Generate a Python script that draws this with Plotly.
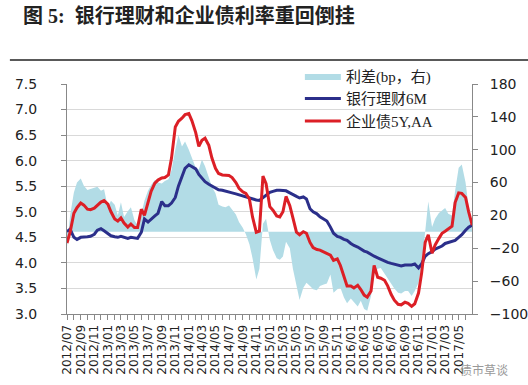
import pandas as pd
import plotly.graph_objects as go

# semi-monthly observation dates (1st and 15th of each month)
dates = pd.date_range("2012-07-01", "2017-07-01", freq="SMS")

# 银行理财6M (%)
wmp_6m = [4.61, 4.66, 4.50, 4.46, 4.50, 4.50, 4.51, 4.52, 4.56, 4.64,
          4.67, 4.63, 4.58, 4.53, 4.51, 4.50, 4.52, 4.50, 4.48, 4.50,
          4.49, 4.48, 4.60, 4.86, 4.80, 4.86, 4.92, 4.97, 5.20, 5.12,
          5.12, 5.17, 5.28, 5.50, 5.70, 5.85, 5.92, 5.89, 5.84, 5.73,
          5.66, 5.59, 5.54, 5.50, 5.46, 5.43, 5.42, 5.40, 5.39, 5.37,
          5.35, 5.33, 5.31, 5.29, 5.27, 5.25, 5.23, 5.22, 5.27, 5.32,
          5.38, 5.40, 5.42, 5.42, 5.42, 5.41, 5.37, 5.33, 5.30, 5.27,
          5.29, 5.25, 5.06, 5.00, 4.96, 4.90, 4.85, 4.82, 4.70, 4.58,
          4.52, 4.50, 4.46, 4.44, 4.38, 4.34, 4.31, 4.27, 4.23, 4.21,
          4.16, 4.13, 4.10, 4.07, 4.03, 4.01, 3.99, 3.97, 3.95, 3.94,
          3.96, 3.96, 3.96, 3.98, 3.90, 3.98, 4.13, 4.18, 4.22, 4.27,
          4.30, 4.33, 4.38, 4.40, 4.41, 4.44, 4.50, 4.55, 4.64, 4.70,
          4.74]

# 企业债5Y,AA (%)
corp_5y_aa = [4.39, 4.60, 4.97, 5.08, 5.17, 5.13, 5.05, 5.04, 5.07, 5.12,
              5.19, 5.22, 5.15, 5.00, 4.86, 4.82, 4.88, 4.78, 4.70, 4.76,
              4.69, 4.69, 5.05, 4.93, 5.20, 5.40, 5.56, 5.62, 5.66, 5.67,
              5.72, 6.05, 6.66, 6.77, 6.83, 6.90, 6.92, 6.78, 6.55, 6.28,
              6.40, 6.44, 6.30, 6.05, 5.85, 5.75, 5.72, 5.72, 5.71, 5.67,
              5.57, 5.46, 5.39, 5.36, 5.25, 4.90, 4.60, 4.62, 5.70, 5.55,
              5.10, 5.03, 4.92, 4.90, 5.00, 5.30, 5.12, 4.88, 4.60, 4.55,
              4.61, 4.58, 4.40, 4.30, 4.26, 4.25, 4.21, 4.19, 4.15, 4.05,
              4.08, 3.95, 3.75, 3.55, 3.55, 3.51, 3.56, 3.48, 3.37, 3.33,
              3.45, 3.95, 3.72, 3.70, 3.66, 3.55, 3.38, 3.27, 3.19, 3.18,
              3.23, 3.21, 3.15, 3.20, 3.41, 3.80, 4.40, 4.55, 4.19, 4.35,
              4.48, 4.58, 4.62, 4.66, 4.72, 5.18, 5.37, 5.36, 5.28, 5.00,
              4.74]

# 利差 (bp, 右轴)
spread_bp = [-18, 20, 48, 60, 65, 56, 51, 52, 54, 55,
             50, 52, 30, 38, 33, 20, 36, 18, 25, 30,
             14, 8, 22, 38, 50, 57, 63, 60, 59, 62,
             64, 75, 100, 118, 104, 110, 100, 91, 78, 76,
             88, 80, 65, 55, 47, 33, 31, 30, 32, 27,
             21, 12, 5, -3, -15, -32, -58, -45, 10, 16,
             -10, -22, -32, -34, -30, -12, -20, -45, -67, -83,
             -68, -62, -66, -70, -71, -66, -64, -63, -52, -74,
             -70, -68, -80, -87, -81, -86, -91, -84, -94, -96,
             -78, -52, -45, -44, -51, -57, -63, -69, -74, -75,
             -72, -72, -78, -72, -62, -40, 0, 37, 6, 16,
             23, 26, 29, 22, 20, 50, 78, 82, 60, 30,
             2]

names = ["利差(bp，右)", "银行理财6M", "企业债5Y,AA"]
left_ticks = [3.0, 3.5, 4.0, 4.5, 5.0, 5.5, 6.0, 6.5, 7.0, 7.5]
right_ticks = [-100, -60, -20, 20, 60, 100, 140, 180]

fig = go.Figure()
fig.add_trace(go.Scatter(
    x=dates, y=spread_bp, name=names[0], yaxis="y",
    mode="lines", line=dict(width=0, color="#b2dce6"),
    fill="tozeroy", fillcolor="#b2dce6"))
fig.add_trace(go.Scatter(
    x=dates, y=wmp_6m, name=names[1], yaxis="y2",
    mode="lines", line=dict(width=3, color="#2b2f8a")))
fig.add_trace(go.Scatter(
    x=dates, y=corp_5y_aa, name=names[2], yaxis="y2",
    mode="lines", line=dict(width=3, color="#dc1f26")))

axis_font = dict(family="DejaVu Sans", size=14, color="#222")
fig.update_layout(
    width=528, height=385,
    margin=dict(l=67, r=56, t=84, b=71, autoexpand=False),
    paper_bgcolor="white", plot_bgcolor="white",
    showlegend=True,
    legend=dict(x=0.575, y=1.105, xanchor="left", yanchor="top",
                bgcolor="rgba(0,0,0,0)",
                font=dict(family="Liberation Serif, Noto Sans CJK SC", size=15, color="#222"),
                itemwidth=36, tracegroupgap=0),
    xaxis=dict(type="date", range=["2012-07-01", "2017-06-30"],
               dtick="M2", tick0="2012-07-01", tickformat="%Y/%m",
               tickangle=-90, tickfont=dict(family="DejaVu Sans", size=12, color="#222"),
               ticks="outside", ticklen=5, tickcolor="#888",
               minor=dict(dtick="M1", ticks="outside", ticklen=5, tickcolor="#888"),
               showline=True, linecolor="#888", linewidth=1,
               showgrid=False, zeroline=False),
    yaxis=dict(side="right", range=[-100, 180], tickvals=right_ticks,
               tickfont=axis_font, ticks="outside", ticklen=5, tickcolor="#888",
               ticklabelstandoff=9,
               showline=True, linecolor="#888", linewidth=1,
               showgrid=False, zeroline=False),
    yaxis2=dict(side="left", overlaying="y", range=[3, 7.5], tickvals=left_ticks,
                tickformat=".1f", tickfont=axis_font,
                ticks="outside", ticklen=5, tickcolor="#888",
                ticklabelstandoff=21,
                showline=True, linecolor="#888", linewidth=1,
                showgrid=True, gridcolor="#d9d9d9", gridwidth=1, zeroline=False),
    annotations=[
        dict(text="<b>图 5:  银行理财和企业债利率重回倒挂</b>",
             xref="paper", yref="paper", x=-0.113, y=1.296,
             xanchor="left", yanchor="middle", showarrow=False,
             font=dict(family="Liberation Serif, Noto Sans CJK SC", size=20, color="#222")),
        dict(text="债市草谈", xref="paper", yref="paper", x=1.03, y=-0.24,
             xanchor="center", yanchor="middle", showarrow=False,
             font=dict(family="Noto Sans CJK SC", size=12, color="#999")),
    ],
    shapes=[dict(type="line", xref="paper", yref="paper",
                 x0=-0.141, x1=1.14, y0=1.104, y1=1.104,
                 line=dict(color="#222", width=1.5))],
)

fig.write_html(
    "out.html",
    config={"displayModeBar": False},
    post_script="document.body.style.margin='0';document.body.style.overflow='hidden';",
)
